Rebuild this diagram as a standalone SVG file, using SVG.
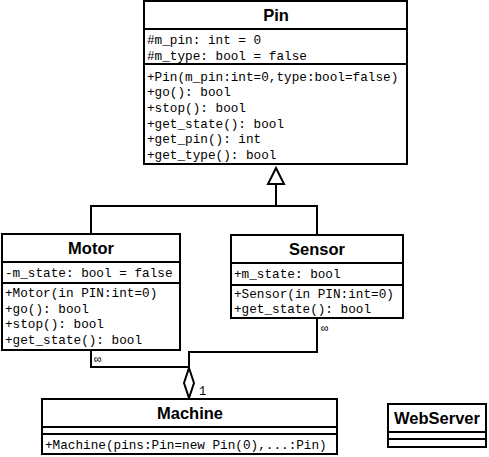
<svg xmlns="http://www.w3.org/2000/svg" width="489" height="457" viewBox="0 0 489 457">
  <style>
    .box { fill: #ffffff; stroke: #000000; stroke-width: 2; }
    .div { stroke: #000000; stroke-width: 2; }
    .title { font-family: "Liberation Sans", Arial, sans-serif; font-weight: bold; font-size: 16.5px; text-anchor: middle; fill: #000000; }
    .mem { font-family: "Liberation Mono", "Courier New", monospace; font-size: 12.7px; fill: #000000; }
    .mult { font-family: "Liberation Mono", "Courier New", monospace; font-size: 12px; fill: #000000; }
    .wire { fill: none; stroke: #000000; stroke-width: 2; }
  </style>
  <rect width="489" height="457" fill="#ffffff"/>

  <g id="connectors">
    <!-- generalization: Motor / Sensor to Pin -->
    <polyline class="wire" points="91,234 91,206 317,206 317,235"/>
    <line class="wire" x1="276" y1="206" x2="276" y2="184"/>
    <polygon points="276,168 284,184 268,184" fill="#ffffff" stroke="#000000" stroke-width="2"/>
    <!-- aggregation: Motor / Sensor into Machine -->
    <polyline class="wire" points="91,350 91,367 189,367"/>
    <polyline class="wire" points="317,318 317,352 189,352 189,368"/>
    <polygon points="189,368 194,383 189,398 184,383" fill="#ffffff" stroke="#000000" stroke-width="2"/>
    <text class="mult" x="94" y="363">∞</text>
    <text class="mult" x="321" y="332">∞</text>
    <text class="mult" x="199" y="395">1</text>
  </g>

  <g id="Pin">
    <rect class="box" x="144" y="1" width="263" height="163"/>
    <line class="div" x1="144" y1="29" x2="407" y2="29"/>
    <line class="div" x1="144" y1="64" x2="407" y2="64"/>
    <text class="title" x="276" y="21">Pin</text>
    <text class="mem" x="147" y="44">#m_pin: int = 0</text>
    <text class="mem" x="147" y="60">#m_type: bool = false</text>
    <text class="mem" x="147" y="80.5">+Pin(m_pin:int=0,type:bool=false)</text>
    <text class="mem" x="147" y="96.2">+go(): bool</text>
    <text class="mem" x="147" y="111.9">+stop(): bool</text>
    <text class="mem" x="147" y="127.6">+get_state(): bool</text>
    <text class="mem" x="147" y="143.3">+get_pin(): int</text>
    <text class="mem" x="147" y="159">+get_type(): bool</text>
  </g>

  <g id="Motor">
    <rect class="box" x="2" y="234" width="178" height="116"/>
    <line class="div" x1="2" y1="262" x2="180" y2="262"/>
    <line class="div" x1="2" y1="283" x2="180" y2="283"/>
    <text class="title" x="91" y="254">Motor</text>
    <text class="mem" x="5" y="277">-m_state: bool = false</text>
    <text class="mem" x="5" y="297">+Motor(in PIN:int=0)</text>
    <text class="mem" x="5" y="312.7">+go(): bool</text>
    <text class="mem" x="5" y="328.4">+stop(): bool</text>
    <text class="mem" x="5" y="344">+get_state(): bool</text>
  </g>

  <g id="Sensor">
    <rect class="box" x="231" y="235" width="172" height="83"/>
    <line class="div" x1="231" y1="263" x2="403" y2="263"/>
    <line class="div" x1="231" y1="285" x2="403" y2="285"/>
    <text class="title" x="317" y="255">Sensor</text>
    <text class="mem" x="234" y="278">+m_state: bool</text>
    <text class="mem" x="234" y="297.5">+Sensor(in PIN:int=0)</text>
    <text class="mem" x="234" y="313">+get_state(): bool</text>
  </g>

  <g id="Machine">
    <rect class="box" x="42" y="399" width="295" height="55"/>
    <line class="div" x1="42" y1="427" x2="337" y2="427"/>
    <line class="div" x1="42" y1="434" x2="337" y2="434"/>
    <text class="title" x="190" y="419">Machine</text>
    <text class="mem" x="45" y="449">+Machine(pins:Pin=new Pin(0),...:Pin)</text>
  </g>

  <g id="WebServer">
    <rect class="box" x="388" y="404" width="98" height="43"/>
    <line class="div" x1="388" y1="432" x2="486" y2="432"/>
    <line class="div" x1="388" y1="439" x2="486" y2="439"/>
    <text class="title" x="437" y="424">WebServer</text>
  </g>
</svg>
